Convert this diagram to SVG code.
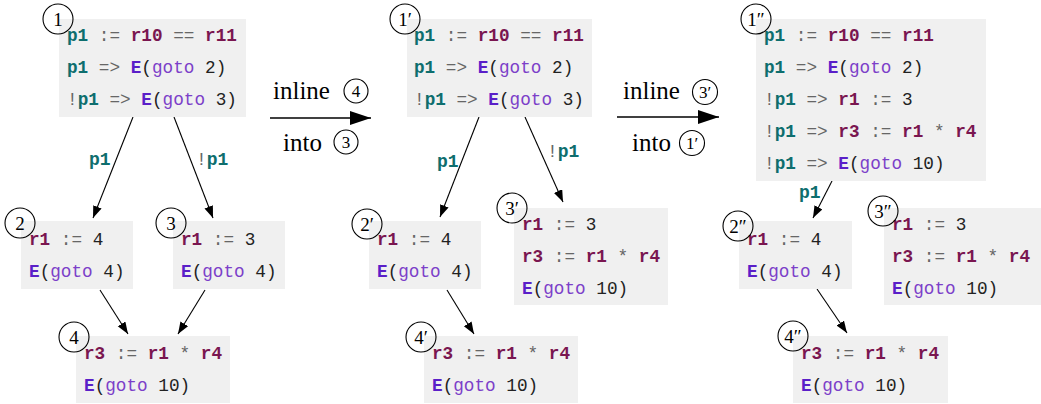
<svg xmlns="http://www.w3.org/2000/svg" width="1041" height="404" viewBox="0 0 1041 404">
<style>
.bx{fill:#f0f0f0}
.c{font-family:"Liberation Mono","DejaVu Sans Mono",monospace;font-size:17.7px;fill:#222}
.p{fill:#0e6e6e;font-weight:bold}
.r{fill:#7a1650;font-weight:bold}
.e{fill:#5a1fc8;font-weight:bold}
.g{fill:#7c3fc9}
.o{fill:#666}
.lab{font-family:"Liberation Mono","DejaVu Sans Mono",monospace;font-size:18px;fill:#666}
.cir{fill:none;stroke:#000;stroke-width:1.1}
.num{font-family:"Liberation Serif","Times New Roman",serif;font-size:19px;fill:#000;text-anchor:middle}
.nums{font-family:"Liberation Serif","Times New Roman",serif;font-size:17px;fill:#000;text-anchor:middle}
.big{font-family:"Liberation Serif","Times New Roman",serif;font-size:25px;fill:#000}
.ed{stroke:#000;stroke-width:1.1;fill:none;marker-end:url(#ah)}
.ed2{stroke:#000;stroke-width:1.3;fill:none;marker-end:url(#bh)}
</style>
<defs>
<marker id="ah" markerUnits="userSpaceOnUse" markerWidth="13" markerHeight="10" refX="12" refY="4.5" orient="auto"><path d="M0,0 L12,4.5 L0,9 z" fill="#000"/></marker>
<marker id="bh" markerUnits="userSpaceOnUse" markerWidth="22" markerHeight="15" refX="21" refY="7" orient="auto"><path d="M0,0 L21,7 L0,14 z" fill="#000"/></marker>
</defs>

<g id="connectors">
<line class="ed" x1="133" y1="117" x2="93" y2="218"/>
<line class="ed" x1="174" y1="117" x2="213" y2="218"/>
<line class="ed" x1="100" y1="290" x2="128" y2="334"/>
<line class="ed" x1="205" y1="290" x2="178" y2="334"/>
<line class="ed" x1="479" y1="117" x2="440" y2="217"/>
<line class="ed" x1="525" y1="117" x2="563" y2="202"/>
<line class="ed" x1="447" y1="290" x2="474" y2="334"/>
<line class="ed" x1="832" y1="181" x2="813" y2="218"/>
<line class="ed" x1="817" y1="289" x2="847" y2="333"/>
<line class="ed2" x1="270" y1="118" x2="371" y2="118"/>
<line class="ed2" x1="617" y1="117" x2="719" y2="117"/>
<text class="lab" x="89" y="165"><tspan class="p">p1</tspan></text>
<text class="lab" x="196" y="165">!<tspan class="p">p1</tspan></text>
<text class="lab" x="437" y="167"><tspan class="p">p1</tspan></text>
<text class="lab" x="547" y="157">!<tspan class="p">p1</tspan></text>
<text class="lab" x="799" y="198"><tspan class="p">p1</tspan></text>
</g>

<g id="step1">
<text class="big" x="273" y="99">inline</text>
<circle class="cir" cx="356" cy="91" r="12"/><text class="nums" x="356" y="97">4</text>
<text class="big" x="283" y="151">into</text>
<circle class="cir" cx="346" cy="142" r="12"/><text class="nums" x="346" y="148">3</text>
</g>
<g id="step2">
<text class="big" x="623" y="99">inline</text>
<circle class="cir" cx="705" cy="92" r="12.5"/><text class="nums" x="705" y="98">3′</text>
<text class="big" x="632" y="151">into</text>
<circle class="cir" cx="692" cy="143" r="12.5"/><text class="nums" x="692" y="149">1′</text>
</g>

<!-- left graph -->
<g id="n1">
<rect class="bx" x="59" y="19" width="187" height="98"/>
<text class="c" x="67" y="41"><tspan class="p">p1</tspan> <tspan class="o">:=</tspan> <tspan class="r">r10</tspan> <tspan class="o">==</tspan> <tspan class="r">r11</tspan></text>
<text class="c" x="67" y="73"><tspan class="p">p1</tspan> <tspan class="o">=&gt;</tspan> <tspan class="e">E</tspan>(<tspan class="g">goto</tspan> 2)</text>
<text class="c" x="67" y="105"><tspan class="o">!</tspan><tspan class="p">p1</tspan> <tspan class="o">=&gt;</tspan> <tspan class="e">E</tspan>(<tspan class="g">goto</tspan> 3)</text>
<circle class="cir" cx="58" cy="19" r="15"/><text class="num" x="58" y="25.5">1</text>
</g>
<g id="n2">
<rect class="bx" x="21" y="221" width="112" height="68"/>
<text class="c" x="29" y="245"><tspan class="r">r1</tspan> <tspan class="o">:=</tspan> 4</text>
<text class="c" x="29" y="277"><tspan class="e">E</tspan>(<tspan class="g">goto</tspan> 4)</text>
<circle class="cir" cx="20" cy="223" r="15"/><text class="num" x="20" y="229.5">2</text>
</g>
<g id="n3">
<rect class="bx" x="173" y="221" width="112" height="68"/>
<text class="c" x="181" y="245"><tspan class="r">r1</tspan> <tspan class="o">:=</tspan> 3</text>
<text class="c" x="181" y="277"><tspan class="e">E</tspan>(<tspan class="g">goto</tspan> 4)</text>
<circle class="cir" cx="171" cy="223" r="15"/><text class="num" x="171" y="229.5">3</text>
</g>
<g id="n4">
<rect class="bx" x="76" y="336" width="154" height="67"/>
<text class="c" x="84" y="359"><tspan class="r">r3</tspan> <tspan class="o">:=</tspan> <tspan class="r">r1</tspan> <tspan class="o">*</tspan> <tspan class="r">r4</tspan></text>
<text class="c" x="84" y="391"><tspan class="e">E</tspan>(<tspan class="g">goto</tspan> 10)</text>
<circle class="cir" cx="74" cy="337" r="15"/><text class="num" x="74" y="343.5">4</text>
</g>

<!-- middle graph -->
<g id="n1p">
<rect class="bx" x="407" y="19" width="185" height="98"/>
<text class="c" x="414" y="41"><tspan class="p">p1</tspan> <tspan class="o">:=</tspan> <tspan class="r">r10</tspan> <tspan class="o">==</tspan> <tspan class="r">r11</tspan></text>
<text class="c" x="414" y="73"><tspan class="p">p1</tspan> <tspan class="o">=&gt;</tspan> <tspan class="e">E</tspan>(<tspan class="g">goto</tspan> 2)</text>
<text class="c" x="414" y="105"><tspan class="o">!</tspan><tspan class="p">p1</tspan> <tspan class="o">=&gt;</tspan> <tspan class="e">E</tspan>(<tspan class="g">goto</tspan> 3)</text>
<circle class="cir" cx="405" cy="19" r="15"/><text class="num" x="405" y="25.5">1′</text>
</g>
<g id="n2p">
<rect class="bx" x="369" y="221" width="112" height="68"/>
<text class="c" x="377" y="245"><tspan class="r">r1</tspan> <tspan class="o">:=</tspan> 4</text>
<text class="c" x="377" y="277"><tspan class="e">E</tspan>(<tspan class="g">goto</tspan> 4)</text>
<circle class="cir" cx="367" cy="224" r="15"/><text class="num" x="367" y="230.5">2′</text>
</g>
<g id="n3p">
<rect class="bx" x="514" y="208" width="154" height="97"/>
<text class="c" x="522" y="230"><tspan class="r">r1</tspan> <tspan class="o">:=</tspan> 3</text>
<text class="c" x="522" y="262"><tspan class="r">r3</tspan> <tspan class="o">:=</tspan> <tspan class="r">r1</tspan> <tspan class="o">*</tspan> <tspan class="r">r4</tspan></text>
<text class="c" x="522" y="294"><tspan class="e">E</tspan>(<tspan class="g">goto</tspan> 10)</text>
<circle class="cir" cx="512" cy="208" r="15"/><text class="num" x="512" y="214.5">3′</text>
</g>
<g id="n4p">
<rect class="bx" x="424" y="336" width="154" height="67"/>
<text class="c" x="432" y="359"><tspan class="r">r3</tspan> <tspan class="o">:=</tspan> <tspan class="r">r1</tspan> <tspan class="o">*</tspan> <tspan class="r">r4</tspan></text>
<text class="c" x="432" y="391"><tspan class="e">E</tspan>(<tspan class="g">goto</tspan> 10)</text>
<circle class="cir" cx="421" cy="337" r="15"/><text class="num" x="421" y="343.5">4′</text>
</g>

<!-- right graph -->
<g id="n1pp">
<rect class="bx" x="756" y="19" width="230" height="162"/>
<text class="c" x="764" y="41"><tspan class="p">p1</tspan> <tspan class="o">:=</tspan> <tspan class="r">r10</tspan> <tspan class="o">==</tspan> <tspan class="r">r11</tspan></text>
<text class="c" x="764" y="73"><tspan class="p">p1</tspan> <tspan class="o">=&gt;</tspan> <tspan class="e">E</tspan>(<tspan class="g">goto</tspan> 2)</text>
<text class="c" x="764" y="105"><tspan class="o">!</tspan><tspan class="p">p1</tspan> <tspan class="o">=&gt;</tspan> <tspan class="r">r1</tspan> <tspan class="o">:=</tspan> 3</text>
<text class="c" x="764" y="137"><tspan class="o">!</tspan><tspan class="p">p1</tspan> <tspan class="o">=&gt;</tspan> <tspan class="r">r3</tspan> <tspan class="o">:=</tspan> <tspan class="r">r1</tspan> <tspan class="o">*</tspan> <tspan class="r">r4</tspan></text>
<text class="c" x="764" y="169"><tspan class="o">!</tspan><tspan class="p">p1</tspan> <tspan class="o">=&gt;</tspan> <tspan class="e">E</tspan>(<tspan class="g">goto</tspan> 10)</text>
<circle class="cir" cx="756" cy="19" r="15"/><text class="num" x="756" y="25.5">1″</text>
</g>
<g id="n2pp">
<rect class="bx" x="739" y="221" width="113" height="68"/>
<text class="c" x="747" y="245"><tspan class="r">r1</tspan> <tspan class="o">:=</tspan> 4</text>
<text class="c" x="747" y="277"><tspan class="e">E</tspan>(<tspan class="g">goto</tspan> 4)</text>
<circle class="cir" cx="738" cy="226" r="15"/><text class="num" x="738" y="232.5">2″</text>
</g>
<g id="n3pp">
<rect class="bx" x="884" y="208" width="157" height="97"/>
<text class="c" x="892" y="230"><tspan class="r">r1</tspan> <tspan class="o">:=</tspan> 3</text>
<text class="c" x="892" y="262"><tspan class="r">r3</tspan> <tspan class="o">:=</tspan> <tspan class="r">r1</tspan> <tspan class="o">*</tspan> <tspan class="r">r4</tspan></text>
<text class="c" x="892" y="294"><tspan class="e">E</tspan>(<tspan class="g">goto</tspan> 10)</text>
<circle class="cir" cx="883" cy="211" r="15"/><text class="num" x="883" y="217.5">3″</text>
</g>
<g id="n4pp">
<rect class="bx" x="793" y="336" width="155" height="67"/>
<text class="c" x="801" y="359"><tspan class="r">r3</tspan> <tspan class="o">:=</tspan> <tspan class="r">r1</tspan> <tspan class="o">*</tspan> <tspan class="r">r4</tspan></text>
<text class="c" x="801" y="391"><tspan class="e">E</tspan>(<tspan class="g">goto</tspan> 10)</text>
<circle class="cir" cx="793" cy="336" r="15"/><text class="num" x="793" y="342.5">4″</text>
</g>
</svg>
